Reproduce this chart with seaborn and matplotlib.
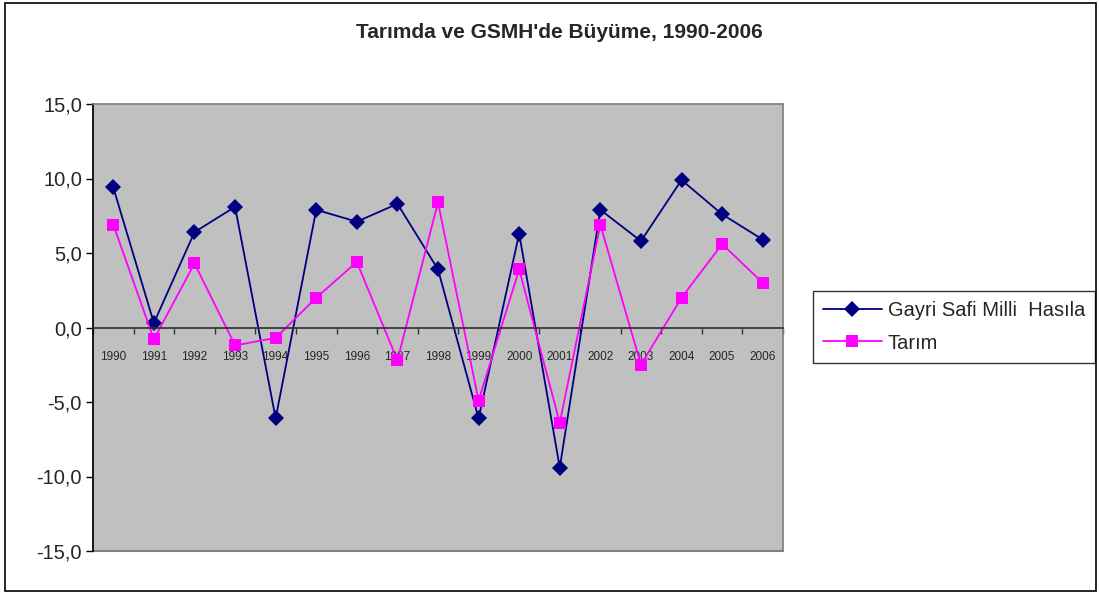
import pandas as pd
import numpy as np
import matplotlib.pyplot as plt
import seaborn as sns
from matplotlib.ticker import FuncFormatter, FixedLocator
from matplotlib.patches import Rectangle

# Veriler
years = list(range(1990, 2007))
gsmh = [9.4, 0.3, 6.4, 8.1, -6.1, 7.9, 7.1, 8.3, 3.9, -6.1, 6.3, -9.4, 7.9, 5.8, 9.9, 7.6, 5.9]
tarim = [6.9, -0.8, 4.3, -1.2, -0.7, 2.0, 4.4, -2.2, 8.4, -4.9, 3.9, -6.4, 6.9, -2.5, 2.0, 5.6, 3.0]
series_names = ["Gayri Safi Milli  Hasıla", "Tarım"]

df = pd.DataFrame({
    "Yıl": years * 2,
    "Büyüme": gsmh + tarim,
    "Seri": [series_names[0]] * len(years) + [series_names[1]] * len(years),
})

sns.set_theme(style="white")
plt.rcParams['font.family'] = ['Liberation Sans', 'DejaVu Sans']

fig = plt.figure(figsize=(10.99, 5.94), dpi=100)
ax = fig.add_axes([93 / 1099, 1 - 551 / 594, 690 / 1099, 447 / 594])
ax.set_facecolor('#c0c0c0')

sns.lineplot(data=df, x="Yıl", y="Büyüme", hue="Seri", style="Seri",
             palette={series_names[0]: '#000080', series_names[1]: '#ff00ff'},
             markers={series_names[0]: 'D', series_names[1]: 's'},
             dashes=False, markersize=8, markeredgewidth=0, linewidth=1.3,
             ax=ax)

ax.set_xlim(1989.5, 2006.5)
ax.set_ylim(-15, 15)
ax.set_yticks(np.arange(-15, 16, 5))
ax.yaxis.set_major_formatter(FuncFormatter(lambda v, p: f"{v:.1f}".replace('.', ',')))
ax.tick_params(axis='y', labelsize=14.5, length=5, width=1, color='black', direction='out', left=True, pad=3)

# x ekseni sıfırda
ax.spines['bottom'].set_position(('data', 0))
ax.spines['bottom'].set_color('#333333')
ax.spines['left'].set_color('black')
ax.spines['top'].set_color('#808080')
ax.spines['right'].set_color('#808080')
ax.set_xticks(years)
ax.set_xticklabels([str(y) for y in years])
ax.xaxis.set_minor_locator(FixedLocator(np.arange(1989.5, 2007, 1)))
ax.tick_params(axis='x', which='major', length=0, labelsize=8.5, pad=17)
ax.tick_params(axis='x', which='minor', length=4, width=1, color='#333333', direction='out', bottom=True)
ax.axhline(-15, color='#808080', lw=1.5, clip_on=False)
ax.set_xlabel("")
ax.set_ylabel("")

fig.text(559 / 1099, 1 - 32 / 594, "Tarımda ve GSMH'de Büyüme, 1990-2006",
         fontsize=15, fontweight='bold', ha='center', va='center')

leg = ax.legend(loc='center left', bbox_to_anchor=(803 / 1099, 1 - 327 / 594),
                bbox_transform=fig.transFigure, frameon=True, fontsize=14.5,
                fancybox=False, edgecolor='black', handlelength=2.9,
                borderpad=0.5, labelspacing=0.65, handletextpad=0.3)
leg.get_frame().set_linewidth(1)
for h in leg.legend_handles:
    h.set_markersize(8)

fig.patches.append(Rectangle((5 / 1099, 3 / 594), 1091 / 1099, 588 / 594, fill=False,
                             edgecolor='black', lw=1.2, transform=fig.transFigure))

fig.savefig("out.png", dpi=100, facecolor='white')
